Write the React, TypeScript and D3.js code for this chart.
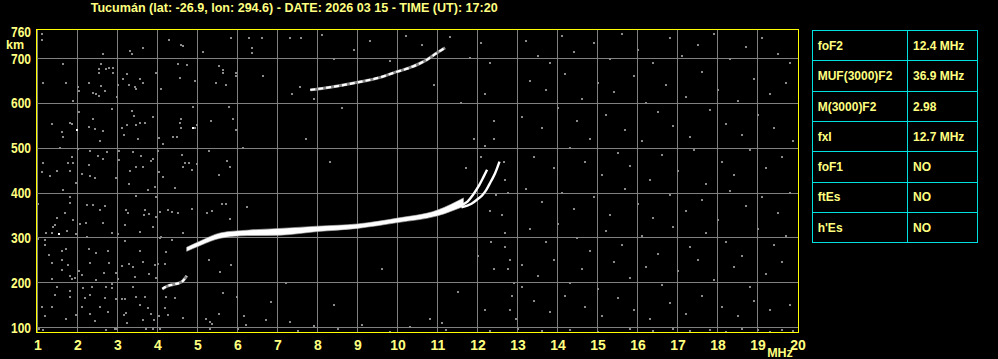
import React, { useEffect } from "react";
import * as d3 from "d3";

const TITLE = "Tucumán (lat: -26.9, lon: 294.6) - DATE: 2026 03 15 - TIME (UT): 17:20";
const xTickLabels = [1, 2, 3, 4, 5, 6, 7, 8, 9, 10, 11, 12, 13, 14, 15, 16, 17, 18, 19, 20];
const yTickLabels = [760, 700, 600, 500, 400, 300, 200, 100];
const yGridKm = [100, 200, 300, 400, 500, 600, 700];

const tableParams = ["foF2", "MUF(3000)F2", "M(3000)F2", "fxI", "foF1", "ftEs", "h'Es"];
const tableValues = ["12.4 MHz", "36.9 MHz", "2.98", "12.7 MHz", "NO", "NO", "NO"];

// Main F2 trace band: frequency (MHz), upper and lower virtual height (km)
const bandFreq = [4.73, 5.07, 5.57, 6.24, 7.07, 8.0, 9.0, 10.0, 11.0, 11.65];
const bandTop = [279, 293, 311, 317, 321, 326, 331, 344, 362, 389];
const bandBot = [270, 283, 299, 305, 306, 314, 321, 334, 349, 370];

// ordinary and extraordinary cusps
const oFreq = [11.55, 11.75, 11.88, 12.02, 12.15, 12.24];
const oKm = [372, 381, 395, 414, 436, 452];
const xFreq = [11.6, 11.85, 12.0, 12.12, 12.22, 12.33, 12.44, 12.55];
const xKm = [368, 376, 386, 395, 407, 425, 444, 470];

// second hop
const hop2Freq = [7.82, 8.32, 9.07, 9.57, 9.9, 10.32, 10.73, 10.98, 11.19];
const hop2Km = [630, 636, 648, 658, 668, 680, 697, 712, 724];

// low fragment
const lowFreq = [4.12, 4.26, 4.4, 4.61, 4.73];
const lowKm = [186, 193, 196, 202, 215];

// background noise echoes [MHz, km]
const noise: [number, number][] = [
  [1.1, 754], [1.1, 742], [2.64, 711], [3.3, 717], [3.35, 711], [3.64, 724], [4.3, 742], [4.6, 731], [4.64, 728], [5.14, 715],
  [5.84, 746], [6.3, 746], [6.35, 724], [6.35, 713], [6.6, 745], [7.3, 745],
  [1.64, 687], [1.14, 646], [1.7, 646], [1.89, 605], [2.01, 637], [2.04, 628], [2.29, 646], [2.39, 624], [2.45, 620], [2.54, 676],
  [2.54, 668], [2.59, 688], [2.72, 676], [2.8, 678], [2.89, 678], [2.89, 668], [2.59, 639], [2.68, 628], [2.54, 617], [2.99, 614],
  [3.01, 642], [3.14, 654], [3.24, 665], [3.29, 642], [3.43, 637], [3.47, 631], [3.55, 654], [3.64, 646], [3.95, 668], [4.1, 633],
  [4.51, 687], [4.55, 656], [4.74, 685], [4.93, 650], [5.45, 646], [5.54, 683], [5.64, 674], [5.64, 668], [5.7, 642], [5.95, 668],
  [5.97, 661], [6.64, 661], [7.35, 620], [7.57, 637],
  [1.35, 554], [1.6, 535], [1.64, 525], [1.8, 557], [1.85, 554], [2.04, 580], [2.29, 548], [2.39, 565], [2.43, 543], [2.55, 517],
  [2.64, 539], [2.85, 588], [3.1, 546], [3.15, 530], [3.24, 552], [3.35, 583], [3.41, 571], [3.47, 552], [3.51, 520], [3.55, 557],
  [3.68, 557], [3.89, 570], [4.04, 522], [4.14, 509], [4.39, 525], [4.49, 525], [4.55, 557], [4.6, 565], [4.58, 545], [4.89, 592],
  [4.93, 546], [4.99, 552], [5.34, 561], [5.79, 592], [5.89, 565], [5.95, 540], [6.14, 500],
  [1.14, 468], [1.1, 446], [1.3, 439], [1.49, 450], [1.55, 500], [1.64, 407], [1.8, 450], [1.85, 480], [1.76, 468], [1.89, 466],
  [1.95, 422], [2.01, 498], [2.1, 443], [2.29, 463], [2.3, 494], [2.3, 437], [2.43, 434], [2.51, 483], [2.64, 476], [2.74, 491],
  [2.95, 434], [3.04, 494], [3.04, 474], [3.29, 419], [3.3, 450], [3.39, 491], [3.45, 459], [3.59, 482], [3.64, 459], [3.76, 407],
  [3.84, 472], [3.89, 476], [3.93, 413], [4.01, 494], [4.04, 446], [4.14, 435], [4.43, 411], [4.62, 485], [4.64, 459], [4.69, 468],
  [4.79, 468], [4.85, 451], [4.99, 465], [5.29, 494], [5.54, 441], [5.74, 472], [5.82, 459],
  [1.0, 376], [1.22, 311], [1.35, 311], [1.39, 324], [1.43, 328], [1.49, 345], [1.68, 355], [1.74, 315], [1.8, 377], [1.8, 391],
  [1.89, 340], [1.97, 308], [2.05, 330], [2.2, 333], [2.24, 374], [2.39, 374], [2.55, 362], [2.64, 333], [2.68, 372], [2.85, 311],
  [3.01, 309], [3.18, 328], [3.22, 361], [3.26, 355], [3.45, 394], [3.55, 313], [3.65, 350], [3.68, 361], [3.79, 354], [3.89, 324],
  [3.95, 391], [3.97, 346], [4.05, 357], [4.1, 302], [4.26, 361], [4.35, 357], [4.51, 355], [4.64, 311], [4.85, 365], [5.24, 355],
  [5.37, 360], [5.6, 376], [5.72, 376], [5.8, 343], [6.24, 368], [6.55, 308],
  [1.01, 298], [1.18, 296], [1.2, 285], [1.29, 261], [1.37, 244], [1.35, 209], [1.6, 271], [1.6, 251], [1.62, 229], [1.7, 274],
  [1.76, 239], [1.8, 214], [1.85, 209], [1.93, 211], [2.04, 226], [2.1, 217], [2.24, 302], [2.29, 276], [2.3, 244], [2.45, 266],
  [2.45, 207], [2.65, 222], [2.76, 271], [2.8, 244], [2.97, 222], [3.01, 209], [3.12, 237], [3.18, 294], [3.29, 242], [3.39, 234],
  [3.43, 213], [3.55, 271], [3.64, 246], [3.79, 220], [3.93, 239], [3.95, 211], [4.01, 242], [4.05, 300], [4.18, 241], [4.22, 268],
  [4.35, 296], [5.29, 251], [5.55, 224], [5.84, 239],
  [1.1, 146], [1.18, 125], [1.35, 145], [1.49, 191], [1.43, 172], [1.7, 120], [1.8, 182], [1.8, 168], [1.97, 128], [2.14, 189],
  [2.12, 145], [2.18, 165], [2.3, 131], [2.32, 172], [2.37, 191], [2.43, 115], [2.55, 146], [2.68, 165], [2.72, 191], [2.76, 135],
  [2.85, 197], [2.87, 187], [2.97, 163], [3.1, 163], [3.18, 163], [3.15, 128], [3.22, 133], [3.24, 111], [3.39, 191], [3.47, 168],
  [3.57, 150], [3.64, 117], [3.68, 168], [3.76, 143], [3.84, 131], [3.9, 117], [4.04, 126], [4.18, 144], [4.22, 168], [4.26, 128],
  [4.43, 165], [4.64, 122], [5.22, 118], [5.3, 113], [5.35, 108], [5.54, 130], [5.64, 176], [5.99, 168], [6.15, 126], [6.2, 105],
  [6.85, 157], [7.3, 113], [6.7, 117],
  [1.04, 96], [1.14, 94], [2.72, 94], [2.93, 96], [2.97, 96], [3.72, 96], [3.89, 96], [4.05, 96], [5.3, 96], [6.01, 96],
  [7.6, 745], [8.1, 752], [8.4, 700], [8.9, 718], [9.3, 740], [9.8, 695], [10.2, 750], [10.6, 730], [11.3, 748], [11.8, 702],
  [12.1, 735], [12.3, 690], [7.9, 610], [8.6, 590], [10.9, 640], [11.6, 600], [12.2, 620], [12.4, 560], [11.9, 520], [12.1, 480],
  [7.7, 520], [8.3, 470], [12.4, 520], [12.2, 505], [11.7, 455], [12.45, 395], [12.3, 360],
  [7.2, 200], [8.4, 150], [9.6, 230], [10.8, 120], [11.5, 180], [12.2, 140], [12.4, 230], [9.1, 105], [10.3, 102], [11.1, 110],
  [7.9, 103], [12.0, 260], [12.35, 290],
  [12.7, 280], [12.8, 250], [12.75, 230], [12.9, 200], [12.85, 170], [12.8, 140], [12.95, 120], [13.1, 190], [12.7, 310], [12.6, 350],
  [12.75, 400], [12.7, 430], [12.65, 470],
  [13.2, 740], [13.5, 705], [13.8, 690], [14.1, 750], [14.4, 715], [14.9, 735], [15.3, 700], [15.6, 755], [16.0, 720], [16.4, 690],
  [16.8, 745], [17.1, 705], [17.5, 730], [17.9, 755], [18.3, 700], [18.7, 725], [19.1, 745], [19.5, 710], [19.8, 690],
  [13.3, 650], [13.7, 630], [14.2, 665], [14.6, 610], [15.0, 645], [15.4, 625], [15.9, 660], [16.2, 600], [16.7, 640], [17.2, 615],
  [17.6, 670], [18.0, 630], [18.5, 605], [18.9, 655], [19.3, 620], [19.7, 645],
  [13.1, 570], [13.6, 545], [14.0, 590], [14.5, 560], [14.8, 520], [15.2, 575], [15.7, 540], [16.1, 515], [16.5, 580], [16.9, 550],
  [17.3, 525], [17.8, 585], [18.2, 555], [18.6, 530], [19.0, 575], [19.4, 545], [19.9, 515],
  [13.4, 480], [13.9, 455], [14.3, 500], [14.7, 470], [15.1, 440], [15.5, 490], [15.8, 460], [16.3, 430], [16.6, 485], [17.0, 450],
  [17.4, 495], [17.7, 420], [18.1, 470], [18.4, 440], [18.8, 495], [19.2, 455], [19.6, 480],
  [13.2, 410], [13.6, 380], [14.1, 400], [14.4, 365], [14.9, 390], [15.3, 350], [15.7, 410], [16.0, 375], [16.4, 345], [16.8, 395],
  [17.2, 360], [17.6, 385], [18.0, 340], [18.3, 405], [18.7, 370], [19.1, 390], [19.5, 355], [19.8, 400],
  [13.3, 320], [13.7, 290], [14.0, 330], [14.5, 300], [14.8, 270], [15.2, 315], [15.6, 285], [16.1, 305], [16.5, 265], [16.9, 325],
  [17.3, 280], [17.7, 310], [18.2, 290], [18.6, 260], [19.0, 320], [19.4, 285], [19.7, 305],
  [13.1, 240], [13.5, 215], [13.9, 250], [14.3, 200], [14.6, 230], [15.0, 185], [15.4, 245], [15.8, 210], [16.2, 235], [16.6, 195],
  [17.0, 225], [17.5, 250], [17.9, 205], [18.4, 235], [18.8, 190], [19.2, 220], [19.6, 245],
  [13.4, 160], [13.8, 135], [14.2, 170], [14.7, 145], [15.1, 125], [15.5, 165], [15.9, 140], [16.3, 120], [16.8, 155], [17.2, 130],
  [17.6, 170], [18.1, 145], [18.5, 125], [18.9, 160], [19.3, 140], [19.8, 150],
  [13.0, 96], [13.6, 92], [14.3, 95], [15.0, 91], [15.8, 96], [16.4, 93], [16.9, 97], [17.3, 92], [17.8, 95], [18.2, 91],
  [18.6, 96], [19.0, 94], [19.3, 91], [19.6, 95], [19.9, 92], [7.5, 92], [8.5, 96], [9.8, 91], [11.2, 95], [12.3, 93],
];
const brightNoise: [number, number][] = [[1.99, 540], [4.89, 545], [1.54, 308]];

const W = 998;
const H = 359;
const PLOT_L = 36.5;
const PLOT_R = 798.5;
const PLOT_T = 29.5;
const PLOT_B = 332.5;

const TXT = "#ffff80";
const FONT = "'Liberation Sans', Arial, sans-serif";

export default function App() {
  useEffect(() => {
    document.body.style.margin = "0";
    document.body.style.background = "#000";
  }, []);

  const x = d3.scaleLinear().domain([1, 20]).range([37.5, 797.5]);
  const y = d3.scaleLinear().domain([100, 700]).range([327.5, 58.5]);
  const crisp = (v: number) => Math.floor(v) + 0.5;

  const band = bandFreq.map((f, i) => ({ f, hi: bandTop[i], lo: bandBot[i] }));
  const area = d3
    .area<{ f: number; hi: number; lo: number }>()
    .x((d) => x(d.f))
    .y0((d) => y(d.lo))
    .y1((d) => y(d.hi))
    .curve(d3.curveMonotoneX);
  const line = d3
    .line<[number, number]>()
    .x((d) => x(d[0]))
    .y((d) => y(d[1]))
    .curve(d3.curveMonotoneX);
  const zip = (a: number[], b: number[]) => a.map((v, i) => [v, b[i]] as [number, number]);

  const rowTop = 30.5;
  const rowH = 30.3;
  const tL = 812.5;
  const tM = 907.5;
  const tR = 977.5;

  return (
    <svg
      width={W}
      height={H}
      style={{ position: "fixed", left: 0, top: 0, display: "block", background: "#000" }}
    >
      <rect x={0} y={0} width={W} height={H} fill="#000" />
      <text x={90.7} y={11.5} fill={TXT} fontFamily={FONT} fontWeight="bold" fontSize={12.5} textLength={407} lengthAdjust="spacingAndGlyphs">
        {TITLE}
      </text>

      {/* grid */}
      <g stroke="#808080" strokeWidth={1} shapeRendering="crispEdges">
        {xTickLabels.slice(0, 19).map((f) => (
          <line key={"vx" + f} x1={crisp(x(f))} x2={crisp(x(f))} y1={PLOT_T} y2={PLOT_B} />
        ))}
        {yGridKm.map((k) => (
          <line key={"hy" + k} x1={PLOT_L} x2={PLOT_R} y1={crisp(y(k))} y2={crisp(y(k))} />
        ))}
      </g>

      {/* noise */}
      <g fill="#8a8a8a" shapeRendering="crispEdges">
        {noise.map((d, i) => (
          <rect key={"n" + i} x={Math.round(x(d[0])) - 1} y={Math.round(y(d[1])) - 1} width={2} height={2} />
        ))}
      </g>
      <g fill="#ffffff" shapeRendering="crispEdges">
        {brightNoise.map((d, i) => (
          <rect key={"b" + i} x={Math.round(x(d[0])) - 1} y={Math.round(y(d[1])) - 1} width={2} height={2} />
        ))}
      </g>

      {/* traces */}
      <path d={line(zip(hop2Freq, hop2Km)) || ""} fill="none" stroke="#8a8a8a" strokeWidth={3} />
      <path d={line(zip(hop2Freq, hop2Km)) || ""} fill="none" stroke="#ffffff" strokeWidth={2.2} strokeDasharray="5 3" />
      <path d={line(zip(lowFreq, lowKm)) || ""} fill="none" stroke="#8a8a8a" strokeWidth={3} />
      <path d={line(zip(lowFreq, lowKm)) || ""} fill="none" stroke="#ffffff" strokeWidth={2.2} strokeDasharray="4 3" />
      <path d={area(band) || ""} fill="#ffffff" stroke="#bbbbbb" strokeWidth={0.6} />
      <path d={line(zip(oFreq, oKm)) || ""} fill="none" stroke="#ffffff" strokeWidth={2.4} />
      <path d={line(zip(xFreq, xKm)) || ""} fill="none" stroke="#ffffff" strokeWidth={2.4} />

      {/* frame */}
      <rect x={PLOT_L} y={PLOT_T} width={PLOT_R - PLOT_L} height={PLOT_B - PLOT_T} fill="none" stroke="#ffff00" strokeWidth={1} shapeRendering="crispEdges" />

      {/* y labels */}
      <g fill={TXT} fontFamily={FONT} fontWeight="bold" fontSize={14}>
        {yTickLabels.map((k) => (
          <text key={"yl" + k} x={31} y={y(k) + 5} textAnchor="end" textLength={20} lengthAdjust="spacingAndGlyphs">
            {k}
          </text>
        ))}
        <text x={6} y={49} fontSize={12.5}>km</text>
      </g>

      {/* x labels */}
      <g fill={TXT} fontFamily={FONT} fontWeight="bold" fontSize={14}>
        {xTickLabels.map((f) => (
          <text key={"xl" + f} x={x(f) + 0.5} y={349.5} textAnchor="middle">
            {f}
          </text>
        ))}
        <text x={780} y={356.5} textAnchor="middle" fontSize={12.5}>MHz</text>
      </g>

      {/* table */}
      <g stroke="#00e0e0" strokeWidth={1} shapeRendering="crispEdges" fill="none">
        <rect x={tL} y={rowTop} width={tR - tL} height={rowH * tableParams.length} />
        <line x1={tM} x2={tM} y1={rowTop} y2={rowTop + rowH * tableParams.length} />
        {tableParams.slice(1).map((p, i) => (
          <line key={"tr" + p} x1={tL} x2={tR} y1={crisp(rowTop + rowH * (i + 1))} y2={crisp(rowTop + rowH * (i + 1))} />
        ))}
      </g>
      <g fill={TXT} fontFamily={FONT} fontWeight="bold" fontSize={12}>
        {tableParams.map((p, i) => (
          <text key={"tp" + p} x={817.7} y={rowTop + rowH * i + rowH / 2 + 4.3}>
            {p}
          </text>
        ))}
        {tableValues.map((v, i) => (
          <text key={"tv" + i} x={913} y={rowTop + rowH * i + rowH / 2 + 4.3}>
            {v}
          </text>
        ))}
      </g>
    </svg>
  );
}
